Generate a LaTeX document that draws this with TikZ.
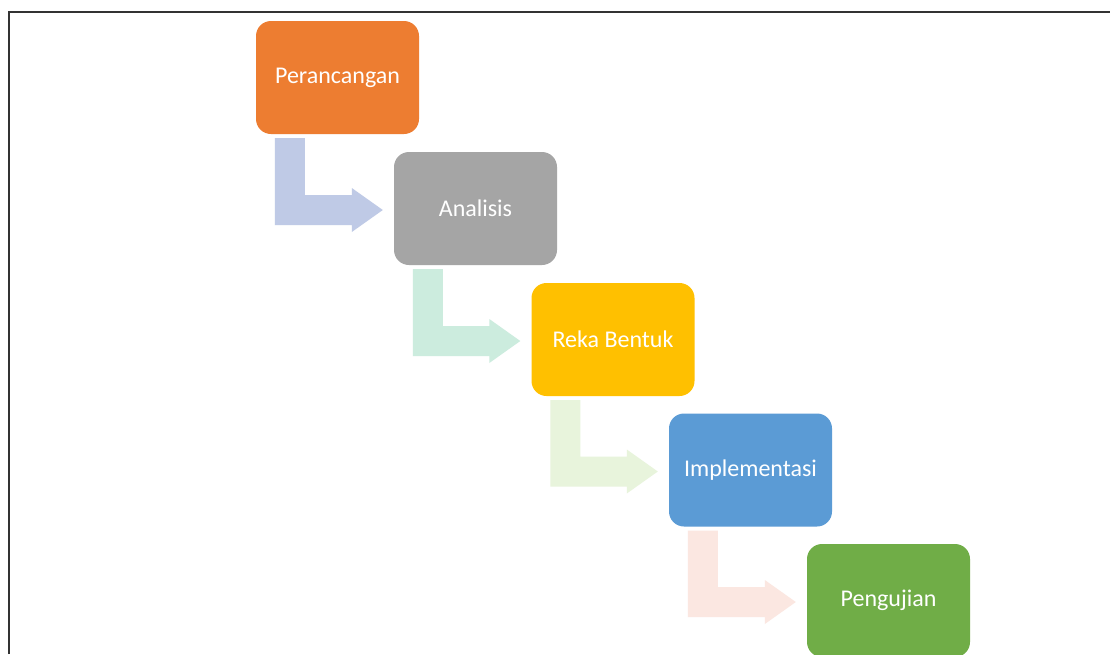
\documentclass[tikz,border=0pt]{standalone}
\usepackage{fontspec}
\setmainfont{Carlito}
\usetikzlibrary{calc}
\definecolor{oren}{HTML}{ED7D31}
\definecolor{kelabu}{HTML}{A5A5A5}
\definecolor{emas}{HTML}{FFC000}
\definecolor{biru}{HTML}{5B9BD5}
\definecolor{hijau}{HTML}{70AD47}
\definecolor{anakbiru}{HTML}{BFCAE6}
\definecolor{anakmint}{HTML}{CCECDE}
\definecolor{anakhijau}{HTML}{E8F4DC}
\definecolor{anakmerah}{HTML}{FBE7E1}
\tikzstyle{tahap} = [
  rectangle,
  rounded corners=15pt,
  minimum width=163pt,
  minimum height=113pt,
  inner sep=0pt,
  text centered,
  text=white,
  font=\fontsize{24}{28}\selectfont
]
\tikzstyle{rancang} = [tahap, fill=oren]
\tikzstyle{analisis} = [tahap, fill=kelabu]
\tikzstyle{reka} = [tahap, fill=emas]
\tikzstyle{laksana} = [tahap, fill=biru]
\tikzstyle{uji} = [tahap, fill=hijau]
% bent block arrow from the bottom of one box to the left of the next
\newcommand{\bentarrow}[3]{%
  \fill[#3] let \p1=(#1.south west), \p2=(#2.west) in
    (\x1+19pt,\y1-4pt) -- (\x1+49pt,\y1-4pt) -- (\x1+49pt,\y2+13.5pt)
    -- (\x2-42pt,\y2+13.5pt) -- (\x2-42pt,\y2+20.5pt) -- (\x2-11pt,\y2-1.5pt)
    -- (\x2-42pt,\y2-23.5pt) -- (\x2-42pt,\y2-16.5pt) -- (\x1+19pt,\y2-16.5pt) -- cycle;
}
\begin{document}
\begin{tikzpicture}[x=1pt,y=-1pt]
    \useasboundingbox (0,0) rectangle (1110,654);
    \fill[white] (0,0) rectangle (1110,654);
    \draw[line width=2pt, black!80] (9,654) -- (9,12) -- (1110,12);

    \node[rancang] (A) at (337.5,77.5) {Perancangan};
    \node[analisis] (B) at (475.5,208.5) {Analisis};
    \node[reka] (C) at (613,339.5) {Reka Bentuk};
    \node[laksana] (D) at (750.5,470) {Implementasi};
    \node[uji] (E) at (888.5,600.5) {Pengujian};

    \bentarrow{A}{B}{anakbiru}
    \bentarrow{B}{C}{anakmint}
    \bentarrow{C}{D}{anakhijau}
    \bentarrow{D}{E}{anakmerah}
\end{tikzpicture}
\end{document}
